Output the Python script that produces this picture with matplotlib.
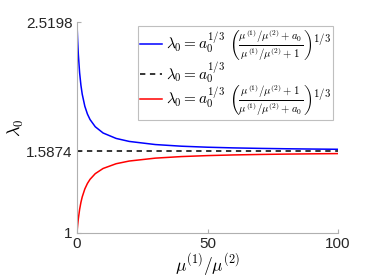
import matplotlib
matplotlib.use("Agg")
import matplotlib.pyplot as plt

# ── Data ──────────────────────────────────────────────────────────────────────

mu_ratio = [0, 0.1, 0.25, 0.5, 1, 1.5, 2, 3, 4, 5, 7, 10, 15, 20, 30, 40,
            50, 60, 70, 80, 90, 100]
lam_upper = [2.5198, 2.4611, 2.3870, 2.2894, 2.1544, 2.0646, 2.0000, 1.9129,
             1.8566, 1.8171, 1.7652, 1.7203, 1.6811, 1.6596, 1.6371, 1.6252,
             1.6179, 1.6130, 1.6095, 1.6068, 1.6047, 1.6030]
lam_lower = [1.0000, 1.0239, 1.0557, 1.1007, 1.1696, 1.2205, 1.2599, 1.3173,
             1.3572, 1.3867, 1.4275, 1.4648, 1.4990, 1.5183, 1.5392, 1.5505,
             1.5575, 1.5623, 1.5657, 1.5683, 1.5703, 1.5720]
lam_ref = 1.5874

x_ticks = [0, 50, 100]
y_ticks = [1, 1.5874, 2.5198]
y_ticklabels = ["1", "1.5874", "2.5198"]

labels = [
    r"$\lambda_0 = a_0^{1/3}\ \left(\frac{\mu^{(1)}/\mu^{(2)}+a_0}{\mu^{(1)}/\mu^{(2)}+1}\right)^{1/3}$",
    r"$\lambda_0 = a_0^{1/3}$",
    r"$\lambda_0 = a_0^{1/3}\ \left(\frac{\mu^{(1)}/\mu^{(2)}+1}{\mu^{(1)}/\mu^{(2)}+a_0}\right)^{1/3}$",
]

# ── Style ─────────────────────────────────────────────────────────────────────

plt.rcParams["font.family"] = ["Liberation Sans", "DejaVu Sans"]
plt.rcParams["mathtext.fontset"] = "cm"

fig = plt.figure(figsize=(3.74, 2.80), dpi=100)
ax = fig.add_axes([77 / 374, 1 - 233 / 280, (338 - 77) / 374, (233 - 22) / 280])

ax.plot(mu_ratio, lam_upper, color="#0000ff", lw=1.1, label=labels[0])
ax.plot([mu_ratio[0], mu_ratio[-1]], [lam_ref, lam_ref], color="black",
        lw=1.1, ls=(0, (3.5, 3)), label=labels[1])
ax.plot(mu_ratio, lam_lower, color="#ff0000", lw=1.1, label=labels[2])

ax.set_xlim(0, 100)
ax.set_ylim(1, 2.5198)
ax.set_xticks(x_ticks)
ax.set_yticks(y_ticks)
ax.set_yticklabels(y_ticklabels)

for side in ["top", "right"]:
    ax.spines[side].set_visible(False)
for side in ["left", "bottom"]:
    ax.spines[side].set_color("#b0b0b0")
    ax.spines[side].set_linewidth(0.8)
ax.tick_params(direction="in", length=3, color="#b0b0b0", labelsize=11,
               labelcolor="#262626", pad=3)

ax.set_xlabel(r"$\mu^{(1)}/\mu^{(2)}$", fontsize=12.5, labelpad=0)
ax.set_ylabel(r"$\lambda_0$", fontsize=13, labelpad=0)

leg = ax.legend(loc="upper right", bbox_to_anchor=(333 / 374, 1 - 26 / 280),
                bbox_transform=fig.transFigure, fontsize=11, frameon=True,
                fancybox=False, edgecolor="#b0b0b0", handlelength=1.4,
                handletextpad=0.25, borderpad=0.15, labelspacing=-0.15,
                borderaxespad=0)
leg.get_frame().set_linewidth(0.8)

plt.savefig("out.png", dpi=100)
